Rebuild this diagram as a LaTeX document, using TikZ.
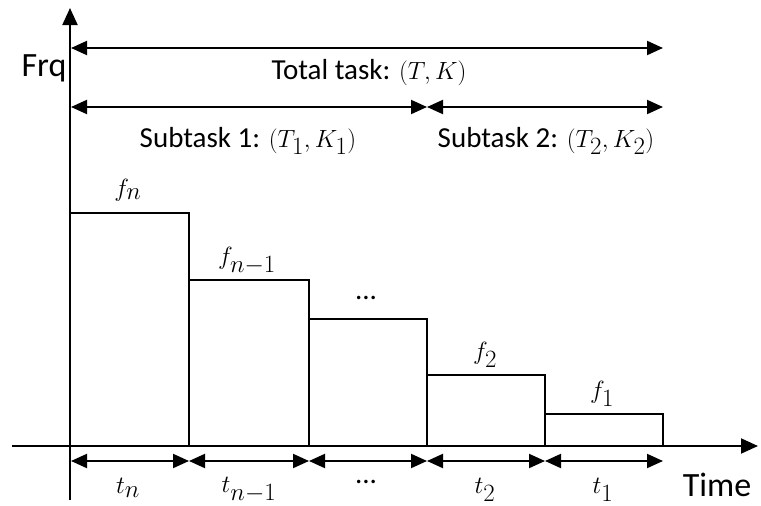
\documentclass[tikz,border=0pt]{standalone}
\usepackage{fontspec}
\setmainfont{Carlito}
\usetikzlibrary{arrows.meta}
\newcommand{\bm}[1]{{\fontsize{33}{36}\selectfont$#1$}}
\begin{document}
\begin{tikzpicture}[x=1pt,y=-1pt,
  ln/.style={line width=2pt},
  dbl/.style={ln,{Triangle[length=16pt,width=14pt]}-{Triangle[length=16pt,width=14pt]}},
  lbl/.style={font=\fontsize{29}{32}\selectfont, inner sep=0pt},
  axl/.style={font=\fontsize{34}{36}\selectfont, inner sep=0pt},
  ml/.style={font=\fontsize{35}{38}\selectfont, inner sep=0pt}]
\useasboundingbox (0,0) rectangle (761,506);
% axes
\coordinate (yb) at (70,500);
\coordinate (yt) at (70,8);
\coordinate (xl) at (12,446);
\coordinate (xr) at (758,446);
\draw[ln,-{Triangle[length=17pt,width=15pt]}] (yb) -- (yt);
\draw[ln,-{Triangle[length=17pt,width=15pt]}] (xl) -- (xr);
% bars
\draw[ln] (70,446) |- (189,213) -- (189,446);
\draw[ln] (189,280) -- (309,280) -- (309,446);
\draw[ln] (309,319) -- (427,319) -- (427,446);
\draw[ln] (427,375) -- (545,375) -- (545,446);
\draw[ln] (545,414) -- (663,414) -- (663,446);
% boundary coordinates
\coordinate (b0) at (71,461);
\coordinate (b1) at (189,461);
\coordinate (b2) at (309,461);
\coordinate (b3) at (427,461);
\coordinate (b4) at (545,461);
\coordinate (b5) at (663,461);
\draw[dbl] (b0) -- (b1);
\draw[dbl] (b1) -- (b2);
\draw[dbl] (b2) -- (b3);
\draw[dbl] (b3) -- (b4);
\draw[dbl] (b4) -- (b5);
% top arrows
\coordinate (t0) at (71,48);
\coordinate (t1) at (663,48);
\draw[dbl] (t0) -- (t1);
\coordinate (s0) at (71,107);
\coordinate (s1) at (427,107);
\coordinate (s2) at (663,107);
\draw[dbl] (s0) -- (s1);
\draw[dbl] (s1) -- (s2);
% labels
\node[axl] (frq) at (44,68) {Frq};
\node[axl] (time) at (717,485) {Time};
\node[lbl] (tot) at (369,73) {Total task: \bm{(T,K)}};
\node[lbl] (st1) at (248,141) {Subtask 1: \bm{(T_1,K_1)}};
\node[lbl] (st2) at (546,141) {Subtask 2: \bm{(T_2,K_2)}};
\node[ml] (fn) at (128,190) {$f_n$};
\node[ml] (fn1) at (247,261) {$f_{n-1}$};
\node[lbl] (fd) at (366,298) {...};
\node[ml] (f2) at (485,355) {$f_2$};
\node[ml] (f1) at (602,394) {$f_1$};
\node[ml] (tn) at (128,488) {$t_n$};
\node[ml] (tn1) at (249,490) {$t_{n-1}$};
\node[lbl] (td) at (366,482) {...};
\node[ml] (t2) at (485,490) {$t_2$};
\node[ml] (t1l) at (603,490) {$t_1$};
\end{tikzpicture}
\end{document}
